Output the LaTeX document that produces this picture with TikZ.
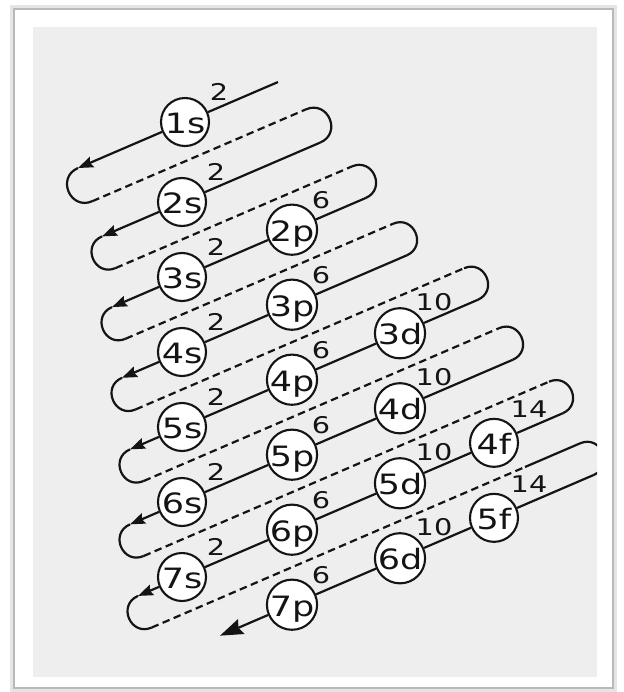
\documentclass[tikz,border=0pt]{standalone}
\usepackage{fontspec}
\setmainfont[FakeStretch=1.25]{DejaVu Sans}
\usetikzlibrary{arrows.meta,calc}
\definecolor{bg}{RGB}{238,238,238}
\definecolor{ink}{RGB}{20,20,20}
\tikzset{
  orb/.style={circle, draw=ink, fill=white, line width=2.1pt, minimum size=48pt,
    inner sep=0pt, font=\fontsize{28}{28}\selectfont, text height=23.4pt, text depth=0pt, text=ink},
  num/.style={font=\fontsize{23}{23}\selectfont, inner sep=0pt, text=ink},
  seg/.style={draw=ink, line width=2.2pt},
  dsh/.style={draw=ink, line width=2.2pt, dash pattern=on 7.5pt off 4.5pt},
  arr/.style={seg, -{Stealth[length=15pt,width=11pt,inset=2pt]}},
  bigarr/.style={seg, -{Stealth[length=23pt,width=16pt,inset=3pt]}},
  uturn/.style={seg, looseness=1.7}
}
\begin{document}
\begin{tikzpicture}[x=1pt,y=1pt]
\useasboundingbox (0,0) rectangle (623,-692);
% frame
\fill[white] (0,0) rectangle (623,-692);
\draw[gray!20, line width=4pt] (12,-7) rectangle (615,-690);
\draw[gray!55, line width=1.2pt] (14,-9) rectangle (613,-688);
\fill[bg] (33,-27) rectangle (597,-677);
\begin{scope}
\clip (33,-27) rectangle (597,-677);
% orbitals
\node[orb] (1s) at (185,-122.01) {1s};
\node[orb] (2s) at (182,-202) {2s};
\node[orb] (3s) at (182,-277) {3s};
\node[orb] (4s) at (182,-352) {4s};
\node[orb] (5s) at (182,-427) {5s};
\node[orb] (6s) at (182,-502) {6s};
\node[orb] (7s) at (182,-577) {7s};
\node[orb] (2p) at (292,-229.7) {2p};
\node[orb] (3p) at (292,-304.7) {3p};
\node[orb] (4p) at (292,-379.7) {4p};
\node[orb] (5p) at (292,-454.7) {5p};
\node[orb] (6p) at (292,-529.7) {6p};
\node[orb] (7p) at (292,-604.7) {7p};
\node[orb] (3d) at (400,-333.26) {3d};
\node[orb] (4d) at (400,-408.26) {4d};
\node[orb] (5d) at (400,-483.26) {5d};
\node[orb] (6d) at (400,-558.26) {6d};
\node[orb] (4f) at (494,-442.84) {4f};
\node[orb] (5f) at (494,-517.84) {5f};
% capacities
\foreach \o in {1s,2s,3s,4s,5s,6s,7s} \node[num] (n\o) at ([shift={(34,30)}]\o.center) {2};
\foreach \o in {2p,3p,4p,5p,6p,7p} \node[num] (n\o) at ([shift={(29,30)}]\o.center) {6};
\foreach \o in {3d,4d,5d,6d} \node[num] (n\o) at ([shift={(34,31)}]\o.center) {10};
\foreach \o in {4f,5f} \node[num] (n\o) at ([shift={(35,34)}]\o.center) {14};
% path coordinates
\coordinate (S1) at (278,-82.02);
\coordinate (A1) at (78,-168.02);   \coordinate (B1) at (92.28,-201.23);
\coordinate (C1) at (306,-109.33);  \coordinate (E2) at (320.28,-142.54);
\coordinate (A2) at (102,-236.4);   \coordinate (B2) at (115.61,-268.05);
\coordinate (C2) at (352,-166.4);   \coordinate (E3) at (365.61,-198.05);
\coordinate (A3) at (112,-307.1);   \coordinate (B3) at (125.61,-338.75);
\coordinate (C3) at (393,-223.77);  \coordinate (E4) at (406.61,-255.42);
\coordinate (A4) at (122,-377.8);   \coordinate (B4) at (135.61,-409.45);
\coordinate (C4) at (464,-268.24);  \coordinate (E5) at (477.61,-299.89);
\coordinate (A5) at (130,-449.36);  \coordinate (B5) at (143.61,-481.01);
\coordinate (C5) at (499,-328.19);  \coordinate (E6) at (512.61,-359.84);
\coordinate (A6) at (130,-524.36);  \coordinate (B6) at (143.61,-556.01);
\coordinate (C6) at (549,-381.69);  \coordinate (E7) at (562.61,-413.34);
\coordinate (A7) at (138,-595.92);  \coordinate (B7) at (151.61,-627.57);
\coordinate (G7) at (525,-467.01);
\coordinate (C7) at (580,-443.36);  \coordinate (E8) at (593.61,-475.01);
\coordinate (F)  at (220,-635.66);
% line 1
\draw[seg] (S1) -- (1s);
\draw[arr] (1s) -- (A1);
\draw[uturn] (A1) to[out=203.27,in=203.27] (B1);
\draw[dsh] (B1) -- (C1);
\draw[uturn] (C1) to[out=23.27,in=23.27] (E2);
% line 2
\draw[seg] (E2) -- (2s);
\draw[arr] (2s) -- (A2);
\draw[uturn] (A2) to[out=203.27,in=203.27] (B2);
\draw[dsh] (B2) -- (C2);
\draw[uturn] (C2) to[out=23.27,in=23.27] (E3);
% line 3
\draw[seg] (E3) -- (2p);
\draw[seg] (2p) -- (3s);
\draw[arr] (3s) -- (A3);
\draw[uturn] (A3) to[out=203.27,in=203.27] (B3);
\draw[dsh] (B3) -- (C3);
\draw[uturn] (C3) to[out=23.27,in=23.27] (E4);
% line 4
\draw[seg] (E4) -- (3p);
\draw[seg] (3p) -- (4s);
\draw[arr] (4s) -- (A4);
\draw[uturn] (A4) to[out=203.27,in=203.27] (B4);
\draw[dsh] (B4) -- (C4);
\draw[uturn] (C4) to[out=23.27,in=23.27] (E5);
% line 5
\draw[seg] (E5) -- (3d);
\draw[seg] (3d) -- (4p);
\draw[seg] (4p) -- (5s);
\draw[arr] (5s) -- (A5);
\draw[uturn] (A5) to[out=203.27,in=203.27] (B5);
\draw[dsh] (B5) -- (C5);
\draw[uturn] (C5) to[out=23.27,in=23.27] (E6);
% line 6
\draw[seg] (E6) -- (4d);
\draw[seg] (4d) -- (5p);
\draw[seg] (5p) -- (6s);
\draw[arr] (6s) -- (A6);
\draw[uturn] (A6) to[out=203.27,in=203.27] (B6);
\draw[dsh] (B6) -- (C6);
\draw[uturn] (C6) to[out=23.27,in=23.27] (E7);
% line 7
\draw[seg] (E7) -- (4f);
\draw[seg] (4f) -- (5d);
\draw[seg] (5d) -- (6p);
\draw[seg] (6p) -- (7s);
\draw[arr] (7s) -- (A7);
\draw[uturn] (A7) to[out=203.27,in=203.27] (B7);
\draw[dsh] (B7) -- (G7);
\draw[seg] (G7) -- (C7);
\draw[uturn] (C7) to[out=23.27,in=23.27] (E8);
% line 8
\draw[seg] (E8) -- (5f);
\draw[seg] (5f) -- (6d);
\draw[seg] (6d) -- (7p);
\draw[bigarr] (7p) -- (F);
\end{scope}
\end{tikzpicture}
\end{document}
